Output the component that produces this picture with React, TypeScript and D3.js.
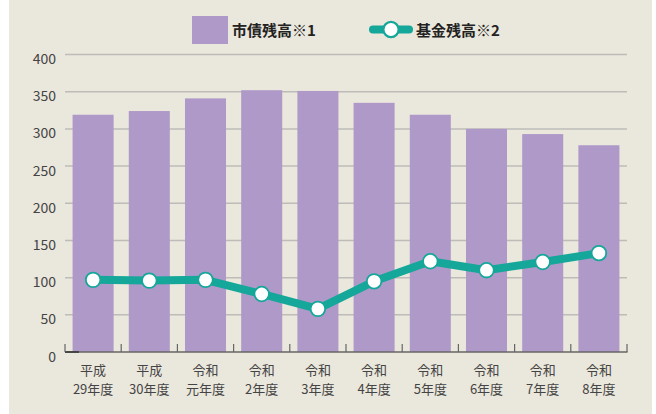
import React from "react";
import * as d3 from "d3";

const categoriesTop = ["平成", "平成", "令和", "令和", "令和", "令和", "令和", "令和", "令和", "令和"];
const categoriesBottom = ["29年度", "30年度", "元年度", "2年度", "3年度", "4年度", "5年度", "6年度", "7年度", "8年度"];
const bondValues = [319, 324, 341, 352, 351, 335, 319, 300, 293, 278];
const fundValues = [97, 96, 97, 78, 58, 95, 122, 110, 121, 133];
const yTicks = [0, 50, 100, 150, 200, 250, 300, 350, 400];
const legendLabels = ["市債残高※1", "基金残高※2"];

const W = 656;
const H = 414;
const BG = "#EAE7DC";
const PURPLE = "#AF99C8";
const TEAL = "#14A79A";
const FONT = "'Noto Sans CJK JP', 'Noto Sans', sans-serif";

export default function App() {
  const idx = categoriesBottom.map((_, i) => String(i));
  const x = d3.scaleBand<string>().domain(idx).range([65, 627]).padding(0);
  const y = d3.scaleLinear().domain([0, 400]).range([352, 54.5]);
  const bw = x.bandwidth() * 0.73;
  const cx = (i: number) => (x(String(i)) as number) + x.bandwidth() / 2;

  const line = d3
    .line<number>()
    .x((_, i) => cx(i))
    .y((d) => y(d));

  const boundaries = d3.range(0, idx.length + 1).map((i) => 65 + i * x.bandwidth());

  return (
    <svg width={W} height={H} style={{ display: "block", position: "absolute", left: 0, top: 0 }}>
      <rect x={9} y={0} width={643} height={414} fill={BG} />
      {/* gridlines */}
      {yTicks.filter((t) => t > 0).map((t) => (
        <line key={t} x1={65} x2={627} y1={y(t)} y2={y(t)} stroke="#BDBCB8" strokeWidth={1.5} />
      ))}
      {/* y labels */}
      {yTicks.map((t) => (
        <text
          key={t}
          x={56}
          y={y(t) + 9.5}
          textAnchor="end"
          fontFamily={FONT}
          fontSize={14}
          fill="#444"
        >
          {t}
        </text>
      ))}
      {/* bars */}
      {bondValues.map((v, i) => (
        <rect key={i} x={cx(i) - bw / 2} y={y(v)} width={bw} height={y(0) - y(v)} fill={PURPLE} />
      ))}
      {/* x axis */}
      <line x1={65} x2={627.5} y1={352} y2={352} stroke="#666" strokeWidth={1.3} />
      <line x1={65} x2={79} y1={352} y2={352} stroke="#333" strokeWidth={1.5} />
      {boundaries.map((b, i) => (
        <line key={i} x1={b} x2={b} y1={344} y2={352} stroke="#666" strokeWidth={1.2} />
      ))}
      {/* x labels */}
      {categoriesBottom.map((c, i) => (
        <g key={i} fontFamily={FONT} fontSize={13} fill="#444" textAnchor="middle">
          <text x={cx(i)} y={375}>{categoriesTop[i]}</text>
          <text x={cx(i)} y={394}>{c}</text>
        </g>
      ))}
      {/* line */}
      <path d={line(fundValues) || ""} fill="none" stroke={TEAL} strokeWidth={8} strokeLinejoin="round" />
      {fundValues.map((v, i) => (
        <circle key={i} cx={cx(i)} cy={y(v)} r={7.3} fill="#fff" stroke={TEAL} strokeWidth={1.8} />
      ))}
      {/* legend */}
      <rect x={192} y={16} width={36} height={28} fill={PURPLE} />
      <text x={232} y={35.5} fontFamily={FONT} fontSize={15} fontWeight="bold" fill="#222">
        {legendLabels[0]}
      </text>
      <line x1={373} x2={409} y1={29.5} y2={29.5} stroke={TEAL} strokeWidth={8} strokeLinecap="round" />
      <circle cx={391} cy={29.5} r={7.6} fill="#fff" stroke={TEAL} strokeWidth={2.2} />
      <text x={416} y={35.5} fontFamily={FONT} fontSize={15} fontWeight="bold" fill="#222">
        {legendLabels[1]}
      </text>
    </svg>
  );
}
